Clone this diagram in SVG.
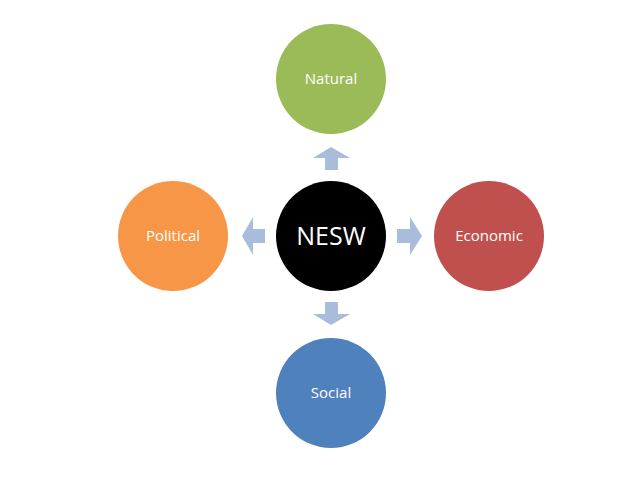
<svg xmlns="http://www.w3.org/2000/svg" width="638" height="479" viewBox="0 0 638 479">
<style>
.lbl{font-family:"Open Sans","Liberation Sans",sans-serif;fill:#ffffff;text-anchor:middle;font-size:15px}
.big{font-size:25px}
.arr{fill:#A9BCDB}
</style>
<rect width="638" height="479" fill="#ffffff"/>
<g id="connectors">
<polygon class="arr" points="331,147 350,158 338,158 338,170 325,170 325,158 313,158"/>
<polygon class="arr" points="422,236 410,255 410,243 397,243 397,229 410,229 410,217"/>
<polygon class="arr" points="242,236 253,217 253,229 265,229 265,243 253,243 253,255"/>
<polygon class="arr" points="331,325 313,314 325,314 325,302 338,302 338,314 350,314"/>
</g>
<g id="nesw"><circle cx="331" cy="236" r="55" fill="#000000"/><text class="lbl big" x="331" y="245">NESW</text></g>
<g id="natural"><circle cx="331" cy="79" r="55" fill="#9BBB59"/><text class="lbl" x="331" y="84">Natural</text></g>
<g id="economic"><circle cx="489" cy="236" r="55" fill="#C0504D"/><text class="lbl" x="489" y="241">Economic</text></g>
<g id="political"><circle cx="173" cy="236" r="55" fill="#F79646"/><text class="lbl" x="173" y="241">Political</text></g>
<g id="social"><circle cx="331" cy="393" r="55" fill="#4F81BD"/><text class="lbl" x="331" y="398">Social</text></g>
</svg>
